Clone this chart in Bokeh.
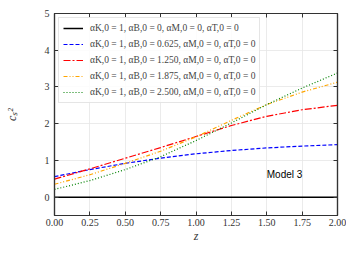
from bokeh.plotting import figure
from bokeh.models import (LinearAxis, Range1d, SingleIntervalTicker, Label, Legend, LegendItem,
                          FixedTicker, CustomJSTickFormatter, CustomLabelingPolicy)
from bokeh.embed import file_html
from bokeh.resources import INLINE

z = [0.0, 0.25, 0.5, 0.75, 1.0, 1.25, 1.5, 1.75, 2.0]
cs2_b000 = [0, 0, 0, 0, 0, 0, 0, 0, 0]
cs2_b0625 = [0.56, 0.75, 0.92, 1.06, 1.18, 1.27, 1.34, 1.39, 1.43]
cs2_b1250 = [0.49, 0.77, 1.06, 1.35, 1.65, 1.95, 2.20, 2.38, 2.50]
cs2_b1875 = [0.35, 0.61, 0.92, 1.25, 1.64, 2.09, 2.52, 2.86, 3.13]
cs2_b2500 = [0.21, 0.45, 0.75, 1.10, 1.54, 2.02, 2.52, 2.97, 3.38]

labels = [
    "\u03b1K,0 = 1, \u03b1B,0 = 0, \u03b1M,0 = 0, \u03b1T,0 = 0",
    "\u03b1K,0 = 1, \u03b1B,0 = 0.625, \u03b1M,0 = 0, \u03b1T,0 = 0",
    "\u03b1K,0 = 1, \u03b1B,0 = 1.250, \u03b1M,0 = 0, \u03b1T,0 = 0",
    "\u03b1K,0 = 1, \u03b1B,0 = 1.875, \u03b1M,0 = 0, \u03b1T,0 = 0",
    "\u03b1K,0 = 1, \u03b1B,0 = 2.500, \u03b1M,0 = 0, \u03b1T,0 = 0",
]

SERIF = "Liberation Serif"

p = figure(width=346, height=245, output_backend="svg", toolbar_location=None,
           x_range=Range1d(0, 2), y_range=Range1d(-0.5, 5),
           min_border_left=54, min_border_right=9, min_border_top=13, min_border_bottom=27)
p.background_fill_color = "white"
p.outline_line_color = "#333333"
p.outline_line_width = 1.2

series = [cs2_b000, cs2_b0625, cs2_b1250, cs2_b1875, cs2_b2500]
colors = ["black", "#0000ff", "#ff0000", "#ffa500", "#008000"]
dashes = ["solid", "4 2", "7 2 2 2", "4 2 1 2 1 2", "1 2"]
widths = [1.5, 1.2, 1.2, 1.2, 1.2]
renderers = []
for ys, c, d, w in zip(series, colors, dashes, widths):
    r = p.line(z, ys, line_color=c, line_dash=d, line_width=w)
    renderers.append(r)

legend = Legend(items=[LegendItem(label=l, renderers=[r]) for l, r in zip(labels, renderers)],
                location="top_left")
legend.label_text_font = SERIF
legend.label_text_font_size = "9.5px"
legend.glyph_width = 20
legend.glyph_height = 12
legend.label_height = 12
legend.spacing = 4
legend.padding = 4
legend.margin = 4
legend.label_standoff = 7
legend.border_line_color = "#cccccc"
legend.border_line_width = 1
legend.background_fill_alpha = 0.85
p.add_layout(legend)

p.add_layout(Label(x=1.5, y=0.62, text="Model 3", text_baseline="middle",
                   text_font="Liberation Sans", text_font_size="10px", text_color="black"))

xt = FixedTicker(ticks=z)
yt = SingleIntervalTicker(interval=1)
p.xaxis.ticker = xt
p.yaxis.ticker = yt
p.xaxis.axis_label = "z"
p.yaxis.axis_label = "c\u209b\u00b2"
for ax in [p.xaxis[0], p.yaxis[0]]:
    ax.major_tick_in = 4
    ax.major_tick_out = 0
    ax.minor_tick_in = 0
    ax.minor_tick_out = 0
    ax.axis_line_color = "#333333"
    ax.axis_line_width = 1.2
    ax.major_tick_line_color = "#333333"
    ax.major_label_text_font = SERIF
    ax.major_label_text_font_size = "10px"
    ax.major_label_text_color = "#333333"
    ax.axis_label_text_font = SERIF
    ax.axis_label_text_font_style = "italic"
    ax.axis_label_text_font_size = "12px"
    ax.axis_label_text_color = "#333333"
p.xaxis.formatter = CustomJSTickFormatter(code="return tick.toFixed(2);")
p.xaxis.major_label_standoff = 3
p.xaxis.axis_label_standoff = 0
p.yaxis.major_label_standoff = 5
p.yaxis.axis_label_standoff = 23

no_labels = CustomLabelingPolicy(code="return new Set()")
for loc, tk in [("above", xt), ("right", yt)]:
    ax = LinearAxis(ticker=tk)
    ax.major_tick_in = 4
    ax.major_tick_out = 0
    ax.minor_tick_in = 0
    ax.minor_tick_out = 0
    ax.major_label_policy = no_labels
    ax.major_label_standoff = 0
    ax.axis_line_color = "#333333"
    ax.axis_line_width = 1.2
    ax.major_tick_line_color = "#333333"
    p.add_layout(ax, loc)

p.grid.grid_line_color = "#e6e6e6"
p.grid.grid_line_width = 0.8
p.xgrid.ticker = xt
p.ygrid.ticker = yt

open("out.html", "w").write(file_html(p, INLINE))
